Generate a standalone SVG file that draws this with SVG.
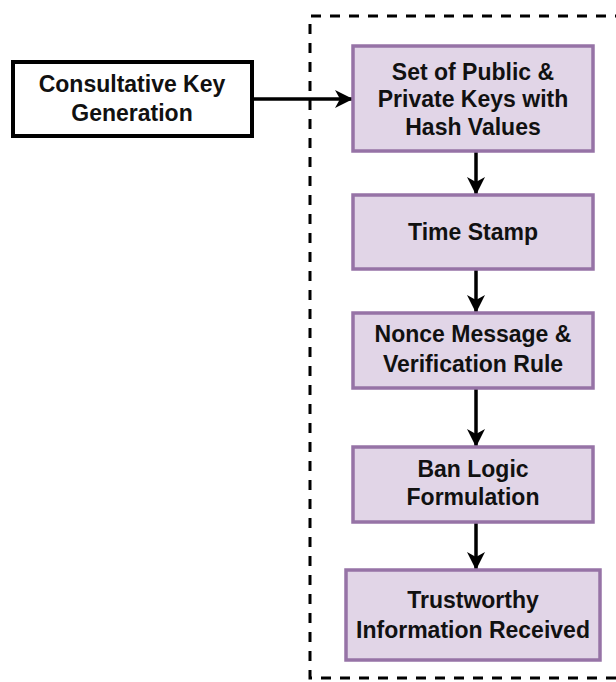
<svg xmlns="http://www.w3.org/2000/svg" width="616" height="682" viewBox="0 0 616 682">
  <defs>
    <marker id="arrow" viewBox="0 0 18 18" refX="17" refY="9" markerWidth="18" markerHeight="18" markerUnits="userSpaceOnUse" orient="auto">
      <path d="M0,0 L18,9 L0,18 L5,9 Z" fill="#000"/>
    </marker>
    <style>
      .step { fill: #e1d5e7; stroke: #9673a6; stroke-width: 3.5; }
      .src { fill: #fff; stroke: #000; stroke-width: 4; }
      .lbl { font-family: "Liberation Sans", Arial, sans-serif; font-weight: bold; font-size: 23px; fill: #111; text-anchor: middle; }
      .edge { fill: none; stroke: #000; stroke-width: 3.5; marker-end: url(#arrow); }
      .frame { fill: none; stroke: #000; stroke-width: 3; stroke-dasharray: 10 9; }
    </style>
  </defs>

  <rect width="616" height="682" fill="#fff"/>

  <!-- dashed boundary around the protocol steps -->
  <g id="boundary">
    <path class="frame" d="M625,16 L310,16 L310,678 L625,678"/>
  </g>

  <g id="connectors">
    <line class="edge" x1="252" y1="99" x2="352" y2="99"/>
    <line class="edge" x1="476" y1="152" x2="476" y2="194"/>
    <line class="edge" x1="476" y1="270" x2="476" y2="312"/>
    <line class="edge" x1="476" y1="389" x2="476" y2="446"/>
    <line class="edge" x1="476" y1="522" x2="476" y2="569"/>
  </g>

  <g id="key-generation">
    <rect class="src" x="13" y="62" width="239" height="74"/>
    <text class="lbl" x="132" y="92">Consultative Key</text>
    <text class="lbl" x="132" y="121">Generation</text>
  </g>

  <g id="key-set">
    <rect class="step" x="353" y="46" width="240" height="105"/>
    <text class="lbl" x="473" y="80">Set of Public &amp;</text>
    <text class="lbl" x="473" y="107">Private Keys with</text>
    <text class="lbl" x="473" y="135">Hash Values</text>
  </g>

  <g id="time-stamp">
    <rect class="step" x="353" y="195" width="240" height="74"/>
    <text class="lbl" x="473" y="240">Time Stamp</text>
  </g>

  <g id="nonce-message">
    <rect class="step" x="353" y="313" width="240" height="75"/>
    <text class="lbl" x="473" y="342">Nonce Message &amp;</text>
    <text class="lbl" x="473" y="372">Verification Rule</text>
  </g>

  <g id="ban-logic">
    <rect class="step" x="353" y="447" width="240" height="75"/>
    <text class="lbl" x="473" y="477">Ban Logic</text>
    <text class="lbl" x="473" y="505">Formulation</text>
  </g>

  <g id="trustworthy-info">
    <rect class="step" x="346" y="570" width="254" height="90"/>
    <text class="lbl" x="473" y="608">Trustworthy</text>
    <text class="lbl" x="473" y="638">Information Received</text>
  </g>
</svg>
